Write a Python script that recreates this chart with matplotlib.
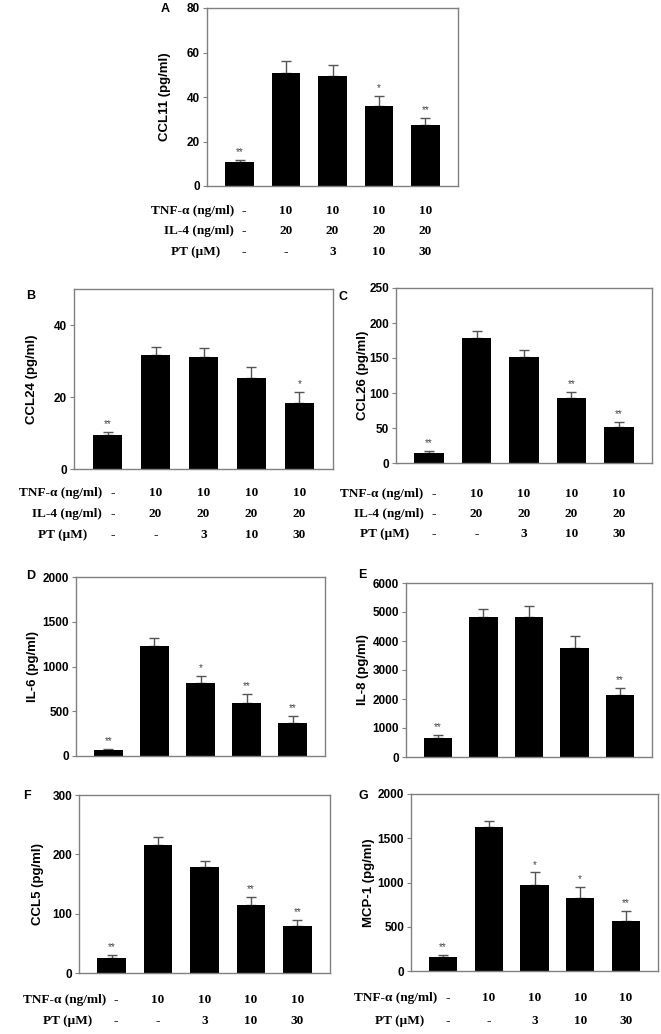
import matplotlib
matplotlib.use("Agg")
import matplotlib.pyplot as plt
import matplotlib.transforms as mtransforms

# bar values and upper error
groups = [0, 1, 2, 3, 4]

ccl11 = [10.6, 50.9, 49.3, 36.0, 27.3]
ccl11_err = [1.3, 5.2, 5.2, 4.4, 3.3]
ccl11_sig = ["**", "", "", "*", "**"]

ccl24 = [9.4, 31.6, 31.1, 25.2, 18.4]
ccl24_err = [0.8, 2.3, 2.5, 3.1, 3.1]
ccl24_sig = ["**", "", "", "", "*"]

ccl26 = [14.8, 178.6, 151.4, 92.4, 51.4]
ccl26_err = [2.8, 9.4, 9.6, 9.0, 7.2]
ccl26_sig = ["**", "", "", "**", "**"]

il6 = [67, 1225, 819, 592, 369]
il6_err = [15, 97, 79, 104, 82]
il6_sig = ["**", "", "*", "**", "**"]

il8 = [667, 4816, 4816, 3770, 2138]
il8_err = [103, 299, 391, 391, 230]
il8_sig = ["**", "", "", "", "**"]

ccl5 = [25.3, 215.5, 179.0, 115.4, 78.8]
ccl5_err = [5.1, 13.0, 10.6, 12.9, 11.2]
ccl5_sig = ["**", "", "", "**", "**"]

mcp1 = [158, 1630, 977, 826, 562]
mcp1_err = [23, 68, 136, 121, 121]
mcp1_sig = ["**", "", "*", "*", "**"]

# treatment table under the bars
tnf_row = ["-", "10", "10", "10", "10"]
il4_row = ["-", "20", "20", "20", "20"]
pt_row = ["-", "-", "3", "10", "30"]

W, H = 661, 1034
fig = plt.figure(figsize=(W / 100, H / 100), dpi=100)

serif = "Liberation Serif"
sans = "Liberation Sans"
grey = "#808080"


def make_axes(l, t, r, b):
    return fig.add_axes([l / W, 1 - b / H, (r - l) / W, (b - t) / H])


def panel(box, vals, errs, sigs, ymax, step, ylabel, letter, letter_xy,
          ylabel_x, rows):
    ax = make_axes(*box)
    ax.bar(groups, vals, width=0.62, color="black", zorder=2)
    ax.errorbar(groups, vals, yerr=[[0] * 5, errs], fmt="none",
                ecolor="#555555", elinewidth=1, capsize=3.5, capthick=1,
                zorder=1)
    for g, v, e, s in zip(groups, vals, errs, sigs):
        if s:
            ax.annotate(s, (g, v + e), xytext=(0, 2), textcoords="offset points",
                        ha="center", va="bottom", fontsize=7, color="#444444",
                        family=sans)
    ax.set_xlim(-0.7, 4.7)
    ax.set_ylim(0, ymax)
    ax.set_yticks(range(0, int(ymax) + 1, step))
    ax.set_xticks([])
    for sp in ax.spines.values():
        sp.set_color(grey)
        sp.set_linewidth(1)
    ax.tick_params(axis="y", direction="out", length=3, color=grey,
                   labelsize=8.5, pad=2)
    for lab in ax.get_yticklabels():
        lab.set_fontweight("bold")
        lab.set_family(sans)
    # y label and panel letter placed in figure pixels
    fig.text(ylabel_x / W, 1 - (box[1] + box[3]) / 2 / H, ylabel,
             rotation=90, ha="center", va="center", fontsize=9.5,
             fontweight="bold", family=sans)
    fig.text(letter_xy[0] / W, 1 - letter_xy[1] / H, letter, ha="center",
             va="center", fontsize=9, fontweight="bold", family=sans)
    # table rows
    tr = mtransforms.blended_transform_factory(ax.transData, fig.transFigure)
    for name, row, ypx, lab_x, dash_x in rows:
        yy = 1 - ypx / H
        ax.text(lab_x, yy, name, transform=tr, ha="right", va="center",
                fontsize=9.5, fontweight="bold", family=serif, clip_on=False)
        for i, txt in enumerate(row):
            xx = dash_x if i == 0 else i
            ax.text(xx, yy, txt, transform=tr, ha="center", va="center",
                    fontsize=9.5, fontweight="bold", family=serif,
                    clip_on=False)
    return ax


def rows3(y0, y1, y2):
    return [("TNF-\u03b1 (ng/ml)", tnf_row, y0, -0.12, 0.1),
            ("IL-4 (ng/ml)", il4_row, y1, -0.12, 0.1),
            ("PT (\u00b5M)", pt_row, y2, -0.42, 0.1)]


def rows2(y0, y1):
    return [("TNF-\u03b1 (ng/ml)", tnf_row, y0, -0.12, 0.1),
            ("PT (\u00b5M)", pt_row, y1, -0.42, 0.1)]


panel((207, 8, 458, 186), ccl11, ccl11_err, ccl11_sig, 80, 20,
      "CCL11 (pg/ml)", "A", (165, 9), 165, rows3(211, 231, 252))
panel((74, 289, 333, 469), ccl24, ccl24_err, ccl24_sig, 50, 20,
      "CCL24 (pg/ml)", "B", (31, 296), 32, rows3(493, 514, 535))
panel((396, 288, 652, 463), ccl26, ccl26_err, ccl26_sig, 250, 50,
      "CCL26 (pg/ml)", "C", (343, 297), 363, rows3(494, 514, 534))
panel((76, 577, 325, 756), il6, il6_err, il6_sig, 2000, 500,
      "IL-6 (pg/ml)", "D", (31, 576), 33, [])
panel((406, 583, 652, 757), il8, il8_err, il8_sig, 6000, 1000,
      "IL-8 (pg/ml)", "E", (362, 575), 363, [])
panel((79, 795, 330, 973), ccl5, ccl5_err, ccl5_sig, 300, 100,
      "CCL5 (pg/ml)", "F", (27, 796), 38, rows2(1000, 1021))
panel((411, 794, 658, 971), mcp1, mcp1_err, mcp1_sig, 2000, 500,
      "MCP-1 (pg/ml)", "G", (363, 796), 369, rows2(998, 1021))

fig.savefig("out.png", dpi=100)
